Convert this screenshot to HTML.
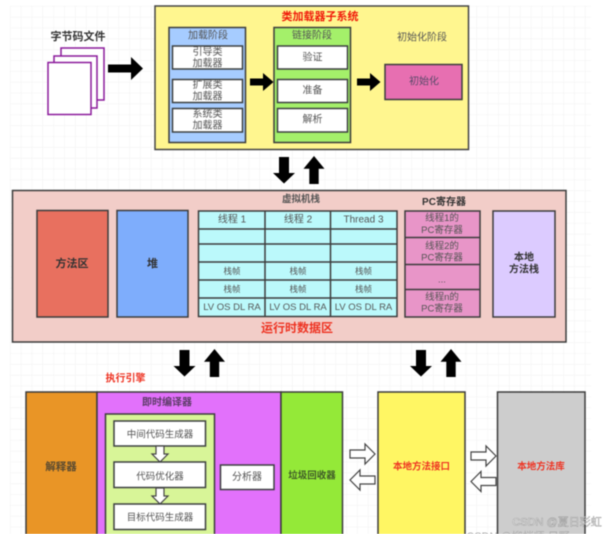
<!DOCTYPE html>
<html><head><meta charset="utf-8"><style>
html,body{margin:0;padding:0;background:#fff;width:608px;height:534px;overflow:hidden}
svg{display:block;filter:blur(.5px)}
text{font-family:"Liberation Sans","Noto Sans CJK SC",sans-serif;text-anchor:middle;dominant-baseline:central;font-size:10px;fill:#555}
.b{font-weight:bold;fill:#333}
.r{font-weight:bold;fill:#ee3322}
.s{fill:none;stroke:#3c3c3c;stroke-width:1.5}
.w{fill:#fff;stroke:#3c4040;stroke-width:1.5}
</style></head><body>
<svg width="608" height="534" viewBox="0 0 608 534" xmlns="http://www.w3.org/2000/svg">
<defs>
<pattern id="g" x="10" y="6" width="10.85" height="10.85" patternUnits="userSpaceOnUse"><path d="M0 0H10.85M0 0V10.85" fill="none" stroke="#f1f1f1" stroke-width="1"/></pattern>
<path id="ar" d="M0 -4H23V-11.500L35 0L23 11.500V4H0Z" fill="#000"/>
<path id="ars" d="M0 -3.500H13V-9L23.500 0L13 9V3.500H0Z" fill="#000"/>
<path id="ad" d="M-5 0H5V16H11L0 26.500L-11 16H-5Z" fill="#000"/>
<path id="au" d="M-4.700 28H4.700V12.700H10.500L0 0L-10.500 12.700H-4.700Z" fill="#000"/>
<path id="ho" d="M0 -4H15V-10L25 0L15 10V4H0Z" fill="#fff" stroke="#444" stroke-width="1.2"/>
<path id="hd" d="M-4 0H4V8H8L0 16L-8 8H-4Z" fill="#fff" stroke="#444" stroke-width="1.2"/>
</defs>
<rect x="10" y="6" width="581" height="528" fill="url(#g)"/>

<!-- class loader -->
<text x="78" y="37" class="b" style="font-size:11px">字节码文件</text>
<rect x="61" y="48" width="43" height="52" fill="#fff" stroke="#8b1a9b" stroke-width="1.5"/>
<rect x="54" y="56" width="43" height="52" fill="#fff" stroke="#8b1a9b" stroke-width="1.5"/>
<rect x="48" y="62.500" width="43" height="52" fill="#fff" stroke="#8b1a9b" stroke-width="1.5"/>
<use href="#ar" x="108" y="68.500"/>

<rect x="155" y="6" width="313.500" height="143.500" fill="#fff68f" stroke="#444" stroke-width="1.5"/>
<text x="320" y="17" class="r" style="font-size:11px;fill:#f01a0a">类加载器子系统</text>
<rect x="169" y="27.500" width="76.500" height="115" class="s" style="fill:#a6ccff"/>
<text x="208" y="36" style="font-size:10px">加载阶段</text>
<rect x="172.500" y="46" width="70" height="23" class="w"/><text x="207.500" y="52.500">引导类</text><text x="207.500" y="64">加载器</text>
<rect x="172.500" y="79.500" width="70" height="23" class="w"/><text x="207.500" y="85.500">扩展类</text><text x="207.500" y="97">加载器</text>
<rect x="172.500" y="108.500" width="70" height="23.500" class="w"/><text x="207.500" y="114.500">系统类</text><text x="207.500" y="126">加载器</text>
<use href="#ars" x="250" y="82"/>
<rect x="274" y="27.500" width="76.500" height="115" class="s" style="fill:#a4f06a"/>
<text x="312" y="36" style="font-size:10px">链接阶段</text>
<rect x="277.500" y="46" width="70" height="23" class="w"/><text x="312.500" y="58">验证</text>
<rect x="277.500" y="79.500" width="70" height="23" class="w"/><text x="312.500" y="91">准备</text>
<rect x="277.500" y="108.500" width="70" height="23.500" class="w"/><text x="312.500" y="120">解析</text>
<use href="#ars" x="357" y="82"/>
<text x="422" y="38">初始化阶段</text>
<rect x="385" y="64.500" width="77" height="35" class="s" style="fill:#e76fb1"/>
<text x="424" y="82" style="font-size:10px;fill:#5a4a6a">初始化</text>
<use href="#ad" x="284" y="157"/>
<use href="#au" x="314" y="156"/>

<!-- runtime data -->
<rect x="12.500" y="190.500" width="553.500" height="151.500" class="s" style="fill:#f2cdc8"/>
<text x="301" y="199.500" class="b" style="font-size:9.500px;fill:#555">虚拟机栈</text>
<text x="444" y="202.500" class="b" style="font-size:10px">PC寄存器</text>
<rect x="37" y="210.500" width="71" height="106.500" class="s" style="fill:#e8705f"/>
<text x="72" y="264" class="b" style="font-size:11px">方法区</text>
<rect x="117" y="210.500" width="71" height="106.500" class="s" style="fill:#7eadfc"/>
<text x="152.500" y="264" class="b" style="font-size:11px">堆</text>

<rect x="198.500" y="211" width="198.500" height="105.500" class="s" style="fill:#bbf9fb"/>
<path class="s" d="M198.500 229H397M198.500 244H397M198.500 262H397M198.500 280H397M198.500 298H397M265 211V316.500M330.500 211V316.500"/>
<text x="232" y="220">线程 1</text><text x="298" y="220">线程 2</text><text x="363.500" y="220">Thread 3</text>
<text x="232" y="271" style="font-size:8.500px">栈帧</text><text x="298" y="271" style="font-size:8.500px">栈帧</text><text x="363.500" y="271" style="font-size:8.500px">栈帧</text>
<text x="232" y="289" style="font-size:8.500px">栈帧</text><text x="298" y="289" style="font-size:8.500px">栈帧</text><text x="363.500" y="289" style="font-size:8.500px">栈帧</text>
<text x="232" y="307.500" style="font-size:9.500px">LV OS DL RA</text><text x="298" y="307.500" style="font-size:9.500px">LV OS DL RA</text><text x="363.500" y="307.500" style="font-size:9.500px">LV OS DL RA</text>
<text x="297" y="328" class="r" style="font-size:12px">运行时数据区</text>

<rect x="405" y="211" width="75" height="106" class="s" style="fill:#e895c8"/>
<path class="s" d="M405 237.500H480M405 264.500H480M405 289.500H480"/>
<text x="442" y="218.500" style="font-size:9.500px">线程1的</text><text x="442" y="230.500" style="font-size:9.500px">PC寄存器</text>
<text x="442" y="246.500" style="font-size:9.500px">线程2的</text><text x="442" y="258" style="font-size:9.500px">PC寄存器</text>
<text x="442" y="280" style="font-size:9.500px">...</text>
<text x="442" y="297.500" style="font-size:9.500px">线程n的</text><text x="442" y="309" style="font-size:9.500px">PC寄存器</text>
<rect x="493" y="211" width="62" height="106" class="s" style="fill:#dccbff"/>
<text x="524" y="258" class="b" style="font-size:10px">本地</text><text x="524" y="270" class="b" style="font-size:10px">方法栈</text>

<use href="#ad" x="184.500" y="350"/><use href="#au" x="214.500" y="349"/>
<use href="#ad" x="421" y="350"/><use href="#au" x="451" y="349"/>
<text x="125.500" y="379" class="r" style="font-size:10px">执行引擎</text>

<!-- engine -->
<rect x="26" y="392" width="71" height="160" class="s" style="fill:#e99526"/>
<text x="61" y="467" class="b" style="font-size:10.500px;fill:#5a4a30">解释器</text>
<rect x="97" y="392" width="184" height="160" class="s" style="fill:#e271fb"/>
<text x="167" y="403" class="b" style="font-size:10px;fill:#5b3b66">即时编译器</text>
<rect x="105.500" y="414" width="109" height="130" class="s" style="fill:#d8f598"/>
<rect x="114" y="421" width="91.500" height="25" class="w"/><text x="160" y="435" style="font-size:9.500px">中间代码生成器</text>
<use href="#hd" x="160" y="446"/>
<rect x="114" y="462" width="91.500" height="25.500" class="w"/><text x="160" y="477" style="font-size:9.500px">代码优化器</text>
<use href="#hd" x="160" y="488"/>
<rect x="114" y="504" width="91.500" height="25.500" class="w"/><text x="160" y="518" style="font-size:9.500px">目标代码生成器</text>
<rect x="220.500" y="465" width="53.500" height="24.500" class="w"/><text x="247" y="477.500" style="font-size:10px">分析器</text>
<rect x="281" y="392" width="61.500" height="160" class="s" style="fill:#94e938"/>
<text x="312" y="476" class="b" style="font-size:9.500px;fill:#3f5a28">垃圾回收器</text>

<use href="#ho" x="350" y="454"/>
<use href="#ho" transform="translate(375 480) scale(-1 1)"/>
<rect x="378" y="392" width="87" height="160" class="s" style="fill:#fff663"/>
<text x="421.500" y="467" class="r" style="font-size:9.500px">本地方法接口</text>
<use href="#ho" x="471" y="456"/>
<use href="#ho" transform="translate(496 481.500) scale(-1 1)"/>
<rect x="497.500" y="392" width="87.500" height="160" class="s" style="fill:#cdcdcd"/>
<text x="541" y="467" class="r" style="font-size:9.500px">本地方法库</text>

<text x="557" y="522.500" style="font-size:11px;fill:#f4f4f4;stroke:#777;stroke-width:.3">CSDN @夏日彩虹</text>
<text x="518" y="537" style="font-size:11px;fill:#aaa">CSDN @柳梢师 日野</text>
</svg>
</body></html>
